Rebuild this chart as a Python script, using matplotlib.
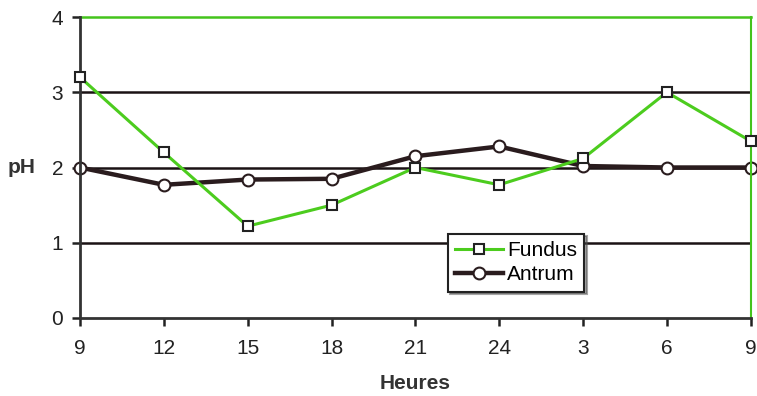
import matplotlib
matplotlib.use("Agg")
import matplotlib.pyplot as plt

hours = ["9", "12", "15", "18", "21", "24", "3", "6", "9"]
fundus = [3.2, 2.2, 1.22, 1.5, 2.0, 1.77, 2.12, 3.0, 2.35]
antrum = [2.0, 1.77, 1.84, 1.85, 2.15, 2.28, 2.02, 2.0, 2.0]
y_ticks = [0, 1, 2, 3, 4]

plt.rcParams['font.family'] = ['Liberation Sans', 'DejaVu Sans']

fig = plt.figure(figsize=(7.57, 3.96), dpi=100)
ax = fig.add_axes([0.1057, 0.197, 0.886, 0.76])
x = list(range(len(hours)))

for yv in [1, 2, 3]:
    ax.axhline(yv, color='#1a1214', lw=1.8, zorder=1)
ax.axhline(4, color='#44c41c', lw=1.8, zorder=1, clip_on=False)

ax.plot(x, fundus, color='#4ccc1e', lw=2.2, marker='s', ms=7, mfc='white',
        mec='#222222', mew=1.5, label='Fundus', zorder=3, clip_on=False)
ax.plot(x, antrum, color='#2a1c1e', lw=3.2, marker='o', ms=8.5, mfc='white',
        mec='#2a1c1e', mew=1.5, label='Antrum', zorder=2, clip_on=False)

ax.set_xlim(0, len(hours) - 1)
ax.set_ylim(0, 4)
ax.set_xticks(x)
ax.set_xticklabels(hours)
ax.set_yticks(y_ticks)
ax.tick_params(axis='both', labelsize=15, colors='#222222', width=1.8, length=6, direction='out')
ax.tick_params(axis='x', pad=9)
ax.tick_params(axis='y', pad=6)

for s in ['left', 'bottom']:
    ax.spines[s].set_color('#333333')
    ax.spines[s].set_linewidth(2)
ax.spines['top'].set_visible(False)
ax.spines['right'].set_color('#44c41c')
ax.spines['right'].set_linewidth(1.5)

ax.set_ylabel('pH', fontsize=15, fontweight='bold', rotation=0, color='#333333', labelpad=22, va='center')
ax.set_xlabel('Heures', fontsize=15, fontweight='bold', color='#333333', labelpad=12)

leg = ax.legend(loc='upper left', bbox_to_anchor=(0.548, 0.28), fontsize=15, frameon=True,
                fancybox=False, shadow=True, handlelength=2.3, handletextpad=0.2,
                borderpad=0.35, labelspacing=0.25, borderaxespad=0)
leg.get_frame().set_edgecolor('#222222')
leg.get_frame().set_linewidth(1.5)
leg.set_zorder(5)

fig.savefig('out.png', dpi=100)
